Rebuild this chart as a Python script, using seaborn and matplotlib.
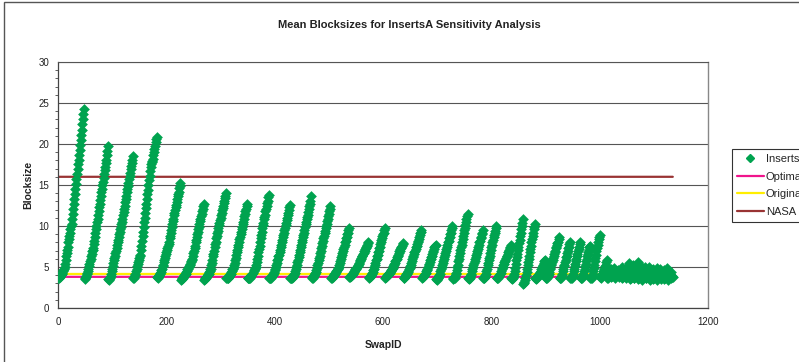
import numpy as np
import matplotlib
matplotlib.use("Agg")
import matplotlib.pyplot as plt
from matplotlib.patches import Rectangle
from matplotlib.lines import Line2D
from matplotlib.ticker import MultipleLocator
import seaborn as sns

# Mean blocksize per swap, one ramp per line (swapID = position)
ramps_big = [
    3.7, 3.7, 3.8, 3.8, 3.9, 4.0, 4.1, 4.2, 4.3, 4.5, 4.6, 4.8, 5.0, 5.4, 5.8, 6.3, 6.7, 7.1, 7.5, 8.0, 8.4, 8.8, 9.2, 9.6, 10.0, 10.3, 10.9, 11.5, 12.1, 12.7, 13.3, 13.9, 14.5, 15.1, 15.7, 16.3, 16.9, 17.5, 18.1, 18.7, 19.3, 19.9, 20.5, 21.1, 21.7, 22.4, 23.0, 23.6, 24.3,
    3.5, 3.6, 3.8, 3.9, 4.1, 4.3, 4.5, 4.8, 5.1, 5.4, 5.7, 6.0, 6.3, 6.6, 6.9, 7.1, 7.3, 7.8, 8.2, 8.7, 9.1, 9.6, 10.0, 10.5, 10.9, 11.4, 11.8, 12.3, 12.7, 13.2, 13.6, 14.1, 14.5, 15.0, 15.4, 15.9, 16.3, 16.8, 17.2, 17.7, 18.1, 18.6, 19.2, 19.8,
    3.5, 3.4, 3.5, 3.7, 3.9, 4.2, 4.5, 4.8, 5.1, 5.5, 5.8, 6.1, 6.4, 6.7, 7.0, 7.3, 7.7, 8.0, 8.3, 8.6, 9.0, 9.3, 9.6, 9.9, 10.2, 10.5, 10.9, 11.3, 11.7, 12.1, 12.5, 12.9, 13.3, 13.7, 14.1, 14.5, 14.9, 15.3, 15.7, 16.1, 16.5, 16.9, 17.3, 17.7, 18.1, 18.5,
    3.7, 3.7, 3.8, 4.0, 4.2, 4.5, 4.8, 5.1, 5.4, 5.6, 5.9, 6.1, 6.3, 6.5, 7.1, 7.6, 8.2, 8.8, 9.3, 9.9, 10.5, 11.0, 11.6, 12.2, 12.7, 13.3, 13.9, 14.4, 15.0, 15.6, 16.1, 16.7, 17.2, 17.5, 17.8, 17.9, 18.2, 18.6, 19.0, 19.4, 19.8, 20.2, 20.6, 20.9,
    3.8, 3.7, 3.8, 3.9, 4.0, 4.1, 4.3, 4.4, 4.6, 4.8, 5.1, 5.3, 5.6, 5.8, 6.1, 6.3, 6.6, 6.8, 7.1, 7.3, 7.6, 7.8, 8.1, 8.5, 8.8, 9.2, 9.5, 9.9, 10.2, 10.6, 10.9, 11.3, 11.6, 11.9, 12.3, 12.6, 12.9, 13.3, 13.6, 13.9, 14.2, 14.6, 14.9, 15.2,
]
ramps_mid = [
    3.4, 3.5, 3.6, 3.7, 3.8, 3.9, 4.0, 4.0, 4.1, 4.2, 4.4, 4.5, 4.7, 4.8, 5.0, 5.1, 5.3, 5.4, 5.6, 5.7, 5.9, 6.0, 6.3, 6.7, 7.0, 7.3, 7.6, 8.0, 8.3, 8.6, 9.0, 9.3, 9.6, 9.9, 10.3, 10.6, 10.9, 11.2, 11.5, 11.8, 12.1, 12.4, 12.7,
    3.4, 3.5, 3.6, 3.7, 3.8, 3.9, 4.0, 4.1, 4.2, 4.4, 4.5, 4.7, 4.8, 5.2, 5.5, 5.9, 6.3, 6.6, 7.0, 7.4, 7.8, 8.1, 8.5, 8.8, 9.1, 9.4, 9.7, 10.1, 10.4, 10.7, 11.0, 11.3, 11.6, 11.9, 12.2, 12.5, 12.8, 13.1, 13.4, 13.7, 14.0,
    3.7, 3.6, 3.6, 3.7, 3.8, 3.9, 4.0, 4.1, 4.2, 4.4, 4.5, 4.7, 4.8, 5.0, 5.2, 5.5, 5.8, 6.1, 6.5, 6.8, 7.1, 7.4, 7.7, 8.0, 8.4, 8.7, 9.0, 9.3, 9.6, 9.9, 10.2, 10.5, 10.9, 11.2, 11.5, 11.8, 12.1, 12.4, 12.7,
    3.7, 3.6, 3.6, 3.6, 3.7, 3.8, 3.9, 4.0, 4.1, 4.2, 4.3, 4.5, 4.6, 4.7, 4.9, 5.0, 5.2, 5.6, 6.0, 6.4, 6.8, 7.2, 7.6, 8.1, 8.5, 8.9, 9.3, 9.7, 10.1, 10.4, 10.8, 11.1, 11.4, 11.8, 12.1, 12.4, 12.8, 13.1, 13.5, 13.8,
    3.7, 3.6, 3.6, 3.7, 3.8, 3.9, 4.0, 4.1, 4.3, 4.4, 4.6, 4.8, 5.0, 5.3, 5.5, 5.8, 6.0, 6.3, 6.5, 6.8, 7.1, 7.4, 7.7, 8.0, 8.3, 8.6, 8.9, 9.2, 9.5, 9.8, 10.1, 10.4, 10.7, 11.0, 11.3, 11.6, 11.9, 12.3, 12.6,
    3.7, 3.6, 3.6, 3.7, 3.8, 3.9, 4.0, 4.2, 4.3, 4.5, 4.7, 5.0, 5.3, 5.6, 5.9, 6.2, 6.5, 6.8, 7.1, 7.4, 7.7, 8.0, 8.3, 8.6, 8.9, 9.2, 9.5, 9.9, 10.2, 10.5, 10.8, 11.1, 11.4, 11.7, 12.1, 12.4, 12.7, 13.1, 13.6,
    3.8, 3.7, 3.7, 3.8, 3.9, 4.0, 4.1, 4.3, 4.4, 4.6, 4.9, 5.2, 5.5, 5.8, 6.1, 6.4, 6.7, 7.0, 7.3, 7.6, 7.9, 8.2, 8.5, 8.8, 9.1, 9.4, 9.7, 10.0, 10.3, 10.6, 10.9, 11.2, 11.5, 11.8, 12.1, 12.5,
]
ramps_small = [
    3.7, 3.7, 3.8, 3.8, 3.9, 4.0, 4.1, 4.2, 4.3, 4.4, 4.5, 4.6, 4.7, 4.9, 5.0, 5.2, 5.5, 5.7, 6.0, 6.2, 6.5, 6.7, 7.0, 7.2, 7.5, 7.7, 8.0, 8.2, 8.5, 8.7, 9.0, 9.2, 9.5, 9.7,
    3.8, 3.8, 3.9, 3.9, 4.0, 4.1, 4.2, 4.3, 4.4, 4.5, 4.6, 4.7, 4.8, 4.9, 5.0, 5.1, 5.3, 5.4, 5.5, 5.7, 5.8, 6.0, 6.1, 6.3, 6.4, 6.6, 6.7, 6.9, 7.0, 7.2, 7.3, 7.5, 7.6, 7.7, 7.9, 8.0,
    3.7, 3.8, 3.8, 3.9, 4.0, 4.1, 4.3, 4.4, 4.6, 4.8, 5.0, 5.3, 5.5, 5.8, 6.0, 6.3, 6.5, 6.8, 7.0, 7.3, 7.5, 7.8, 8.0, 8.3, 8.5, 8.8, 9.0, 9.2, 9.5, 9.7,
    3.7, 3.8, 3.8, 3.9, 4.0, 4.0, 4.1, 4.2, 4.3, 4.4, 4.5, 4.6, 4.7, 4.8, 4.9, 5.1, 5.2, 5.4, 5.5, 5.7, 5.9, 6.0, 6.2, 6.4, 6.5, 6.7, 6.9, 7.0, 7.2, 7.3, 7.5, 7.6, 7.8, 7.9,
    3.7, 3.7, 3.8, 3.9, 4.0, 4.1, 4.2, 4.3, 4.4, 4.5, 4.7, 4.9, 5.1, 5.3, 5.5, 5.7, 6.0, 6.2, 6.4, 6.6, 6.8, 7.0, 7.2, 7.4, 7.6, 7.8, 8.0, 8.2, 8.4, 8.7, 8.9, 9.1, 9.3, 9.5,
    3.7, 3.8, 3.8, 3.9, 4.0, 4.1, 4.2, 4.3, 4.5, 4.6, 4.8, 5.0, 5.2, 5.4, 5.6, 5.8, 6.0, 6.2, 6.4, 6.6, 6.8, 7.0, 7.2, 7.4, 7.6, 7.7,
    3.5, 3.4, 3.5, 3.6, 3.7, 3.9, 4.0, 4.2, 4.5, 4.7, 5.0, 5.2, 5.5, 5.7, 6.0, 6.2, 6.5, 6.7, 7.0, 7.2, 7.5, 7.7, 8.0, 8.2, 8.5, 8.7, 9.0, 9.2, 9.5, 9.7, 10.0,
    3.6, 3.5, 3.6, 3.7, 3.9, 4.1, 4.3, 4.6, 5.0, 5.3, 5.7, 6.0, 6.4, 6.7, 7.1, 7.4, 7.7, 8.1, 8.4, 8.8, 9.1, 9.5, 9.8, 10.1, 10.5, 10.8, 11.2, 11.5,
    3.6, 3.5, 3.6, 3.7, 3.8, 4.0, 4.2, 4.5, 4.7, 5.0, 5.2, 5.5, 5.7, 6.0, 6.2, 6.5, 6.7, 7.0, 7.2, 7.5, 7.7, 8.0, 8.2, 8.5, 8.7, 9.0, 9.2, 9.5,
    3.7, 3.6, 3.7, 3.8, 4.0, 4.2, 4.5, 4.8, 5.2, 5.5, 5.8, 6.1, 6.4, 6.7, 7.1, 7.4, 7.7, 8.0, 8.3, 8.6, 8.9, 9.2, 9.4, 9.7, 10.0,
    3.7, 3.6, 3.7, 3.8, 3.9, 4.0, 4.1, 4.3, 4.5, 4.7, 4.9, 5.0, 5.2, 5.4, 5.6, 5.7, 5.9, 6.1, 6.3, 6.4, 6.6, 6.8, 7.0, 7.1, 7.3, 7.5, 7.7,
]
ramps_late = [
    3.6, 3.5, 3.6, 3.7, 3.9, 4.1, 4.5, 4.9, 5.4, 5.8, 6.2, 6.6, 7.1, 7.5, 7.9, 8.3, 8.8, 9.2, 9.6, 10.0, 10.4, 10.8,
    2.9, 3.0, 3.2, 3.4, 3.7, 4.0, 4.4, 4.8, 5.2, 5.6, 6.0, 6.4, 6.8, 7.2, 7.6, 8.0, 8.4, 8.8, 9.2, 9.6, 9.9, 10.3,
    3.6, 3.5, 3.6, 3.7, 3.8, 3.9, 4.0, 4.1, 4.3, 4.4, 4.5, 4.7, 4.8, 5.0, 5.1, 5.3, 5.5, 5.7, 5.9,
    3.7, 3.6, 3.7, 3.8, 3.9, 4.0, 4.2, 4.4, 4.7, 4.9, 5.2, 5.4, 5.6, 5.9, 6.1, 6.3, 6.6, 6.8, 7.0, 7.3, 7.5, 7.7, 7.9, 8.1, 8.4, 8.6,
    3.7, 3.6, 3.7, 3.8, 4.0, 4.2, 4.5, 4.8, 5.1, 5.3, 5.6, 5.9, 6.2, 6.4, 6.7, 7.0, 7.3, 7.5, 7.8, 8.1,
    3.7, 3.6, 3.7, 3.8, 4.0, 4.2, 4.5, 4.8, 5.1, 5.4, 5.7, 6.0, 6.3, 6.6, 6.9, 7.2, 7.5, 7.8, 8.1,
    3.7, 3.6, 3.7, 3.8, 4.0, 4.2, 4.5, 4.8, 5.1, 5.4, 5.7, 6.0, 6.3, 6.6, 6.8, 7.1, 7.4, 7.6,
    3.7, 3.6, 3.7, 3.9, 4.1, 4.5, 4.9, 5.3, 5.7, 6.1, 6.5, 6.9, 7.3, 7.7, 8.1, 8.4, 8.7, 8.9,
    3.8, 3.7, 3.8, 3.9, 4.1, 4.3, 4.5, 4.7, 4.9, 5.1, 5.3, 5.6, 5.8,
]
tail = [
    3.6, 3.7, 3.9, 4.1, 4.4, 4.6, 4.8, 3.8, 3.9, 4.1, 4.3, 4.5, 4.7, 4.9,
    3.7, 3.8, 4.0, 4.2, 4.4, 4.6, 4.5, 3.8, 3.9, 4.1, 4.3, 4.6, 4.8, 5.0,
    3.6, 3.8, 4.0, 4.3, 4.5, 4.7, 3.7, 3.8, 4.0, 4.3, 4.6, 4.9, 5.2, 5.5,
    3.5, 3.7, 4.0, 4.3, 4.6, 4.9, 5.2, 3.6, 3.7, 3.9, 4.2, 4.5, 4.9, 5.3, 5.6,
    3.5, 3.6, 3.9, 4.2, 4.5, 4.8, 5.1, 3.4, 3.6, 3.8, 4.1, 4.4, 4.7, 5.0,
    3.6, 3.7, 3.9, 4.2, 4.5, 4.8, 5.0, 3.4, 3.6, 3.8, 4.0, 4.3, 4.6, 4.8,
    3.5, 3.6, 3.8, 4.1, 4.3, 4.6, 4.9, 3.4, 3.6, 3.8, 4.0, 4.3, 4.5, 4.8,
    3.5, 3.7, 3.9, 4.1, 4.4, 4.6, 3.5, 3.6, 3.8, 4.0, 4.2, 4.5, 4.9,
    3.4, 3.6, 3.8, 4.0, 4.2, 4.4, 3.6, 3.8, 3.9, 3.8,
]

# constant reference series
ref_labels = ["Optimal", "Original", "NASA"]
ref_values = [3.8, 4.15, 16.0]
ref_colors = ["#f0148c", "#ffee00", "#993333"]
insert_color = "#00a34f"

blocksize = np.array(ramps_big + ramps_mid + ramps_small + ramps_late + tail)
swap_id = np.arange(len(blocksize))

sns.set_style("white")
plt.rcParams["font.family"] = ["Liberation Sans", "DejaVu Sans"]

W, H = 799, 362
fig = plt.figure(figsize=(W / 100, H / 100), dpi=100)
ax = fig.add_axes([58 / W, 54 / H, 650 / W, 246 / H])

# reference lines first, markers on top
for value, color in zip(ref_values, ref_colors):
    sns.lineplot(x=swap_id, y=np.full(len(swap_id), value), color=color,
                 linewidth=1.6, ax=ax, zorder=2)
sns.scatterplot(x=swap_id, y=blocksize, marker="D", s=30, color=insert_color,
                linewidth=0, ax=ax, zorder=3)

ax.set_xlim(0, 1200)
ax.set_ylim(0, 30)
ax.xaxis.set_major_locator(MultipleLocator(200))
ax.yaxis.set_major_locator(MultipleLocator(5))
ax.yaxis.set_minor_locator(MultipleLocator(1))
ax.yaxis.grid(True, color="#555555", linewidth=0.8)
ax.set_axisbelow(True)
ax.tick_params(axis="both", which="major", direction="out", length=3.5,
               width=0.8, color="#444444", labelsize=7, labelcolor="#222222", pad=3)
ax.tick_params(axis="y", which="minor", direction="out", length=2, width=0.6,
               color="#444444", left=True)
for side in ["left", "bottom"]:
    ax.spines[side].set_color("#444444")
    ax.spines[side].set_linewidth(0.9)
ax.spines["top"].set_color("#555555")
ax.spines["top"].set_linewidth(0.8)
ax.spines["right"].set_color("#888888")
ax.spines["right"].set_linewidth(1.0)

ax.set_xlabel("")
ax.set_ylabel("")
fig.text(383 / W, 1 - 345 / H, "SwapID", ha="center", va="center",
         fontsize=7.5, fontweight="bold", color="#222222")
fig.text(28 / W, 1 - 185 / H, "Blocksize", ha="center", va="center",
         rotation=90, fontsize=7.5, fontweight="bold", color="#222222")
fig.text(409 / W, 1 - 25 / H, "Mean Blocksizes for InsertsA Sensitivity Analysis",
         ha="center", va="center", fontsize=8, fontweight="bold", color="#222222")

# legend runs past the right edge, as in the original
handles = [Line2D([], [], marker="D", linestyle="none", color=insert_color, markersize=4.5)]
handles += [Line2D([], [], color=c, linewidth=1.6) for c in ref_colors]
leg = fig.legend(handles, ["InsertsA"] + ref_labels, loc="upper left",
                 bbox_to_anchor=(732 / W, 1 - 149 / H), bbox_transform=fig.transFigure,
                 frameon=True, fancybox=False, edgecolor="black", fontsize=8,
                 handlelength=2.4, handletextpad=0.2, labelspacing=0.68,
                 borderpad=0.45, borderaxespad=0)
leg.get_frame().set_linewidth(0.8)

# chart area border
fig.patches.append(Rectangle((4 / W, -0.1), 2, 1.1 - 2 / H, transform=fig.transFigure,
                             fill=False, edgecolor="#555555", linewidth=1.0))

fig.savefig("out.png", dpi=100)
plt.close(fig)
